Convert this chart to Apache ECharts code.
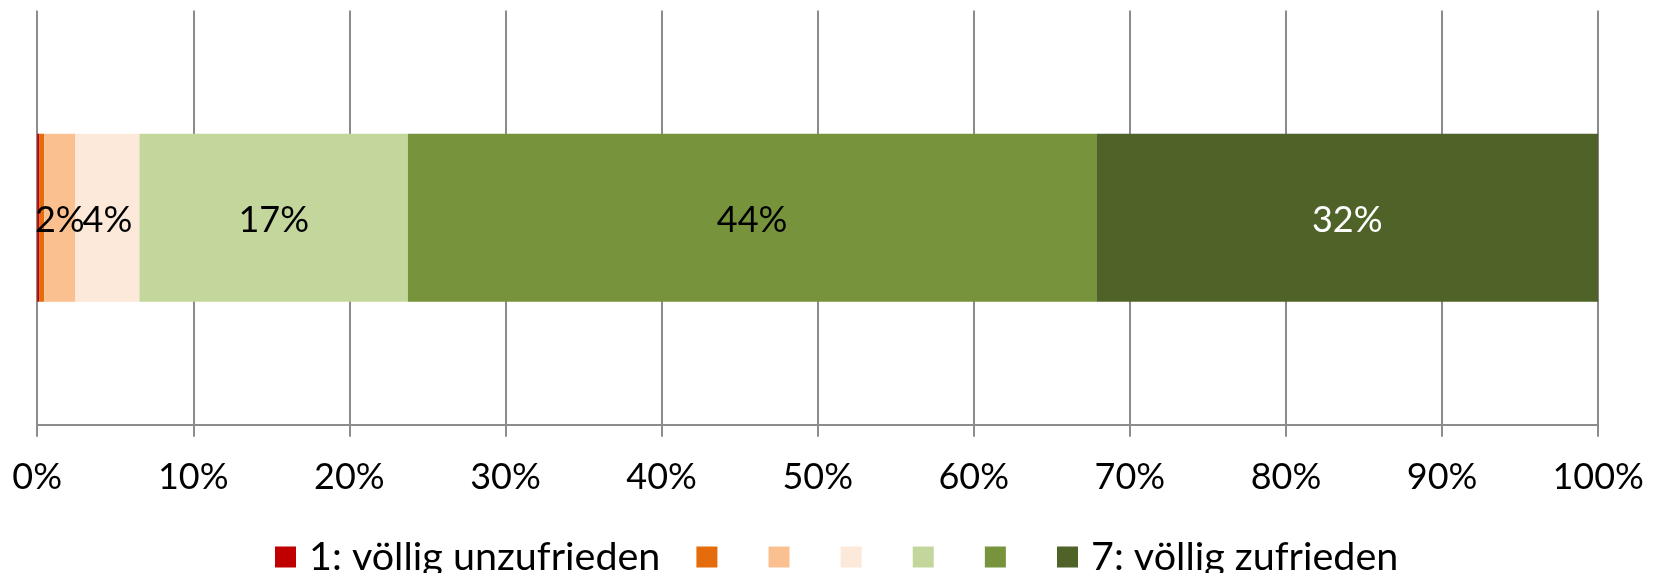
<!DOCTYPE html>
<html>
<head>
<meta charset="utf-8">
<script src="https://cdn.jsdelivr.net/npm/echarts@6/dist/echarts.min.js"></script>
<style>
  html, body { margin: 0; padding: 0; background: #fff; }
  #chart { width: 1665px; height: 573px; }
</style>
</head>
<body>
<div id="chart"></div>
<script>
// == Data ====================================================================

const categories = ['Gesamt']
const seriesNames = ['1: völlig unzufrieden', '2', '3', '4', '5', '6', '7: völlig zufrieden']
const shares = [0.15, 0.3, 2.0, 4.1, 17.2, 44.1, 32.15]
const colors = ['#C00000', '#E46C0A', '#FAC090', '#FDE9D9', '#C3D69B', '#77933C', '#4F6228']
const xTicks = [0, 10, 20, 30, 40, 50, 60, 70, 80, 90, 100]

// names that get a text in the legend, the rest only show the colour box
const legendTexts = ['1: völlig unzufrieden', '7: völlig zufrieden']
const hiddenLabels = ['1: völlig unzufrieden', '2']

const font = 'Lato, "Open Sans", sans-serif'
const gridColor = '#8c8c8c'

const series = seriesNames.map((name, i) => ({
  name,
  type: 'bar',
  stack: 'total',
  barWidth: 168,
  data: [shares[i]],
  itemStyle: { color: colors[i] },
  label: {
    show: !hiddenLabels.includes(name),
    position: 'inside',
    offset: [0, 3],
    fontFamily: font,
    fontSize: 36,
    color: i === seriesNames.length - 1 ? '#ffffff' : '#000000',
    formatter: p => Math.round(p.value) + '%'
  }
}))

const option = {
  animation: false,
  backgroundColor: '#ffffff',
  grid: { left: 37.2, right: 66.8, top: 10.6, bottom: 148.2, containLabel: false },
  xAxis: {
    type: 'value',
    min: xTicks[0],
    max: xTicks[xTicks.length - 1],
    interval: 10,
    axisLine: { show: true, lineStyle: { color: gridColor, width: 2 } },
    axisTick: { show: true, length: 12, lineStyle: { color: gridColor, width: 2 } },
    splitLine: { show: true, lineStyle: { color: gridColor, width: 2 } },
    axisLabel: {
      margin: 35,
      fontFamily: font,
      fontSize: 36,
      color: '#000000',
      formatter: v => v + '%'
    }
  },
  yAxis: {
    type: 'category',
    data: categories,
    axisLine: { show: false },
    axisTick: { show: false },
    axisLabel: { show: false }
  },
  legend: {
    data: seriesNames,
    left: 275,
    top: 537,
    icon: 'rect',
    itemWidth: 21,
    itemHeight: 21,
    itemGap: 36,
    padding: 0,
    formatter: name => legendTexts.includes(name) ? '{g| }' + name : '{e| }',
    textStyle: {
      fontFamily: font,
      fontSize: 39.5,
      color: '#000000',
      rich: {
        g: { width: 8, fontSize: 39.5 },
        e: { width: 1, fontSize: 39.5 }
      }
    }
  },
  series
}

const myChart = echarts.init(document.getElementById('chart'), null, { renderer: 'canvas' })
myChart.setOption(option)
</script>
</body>
</html>
